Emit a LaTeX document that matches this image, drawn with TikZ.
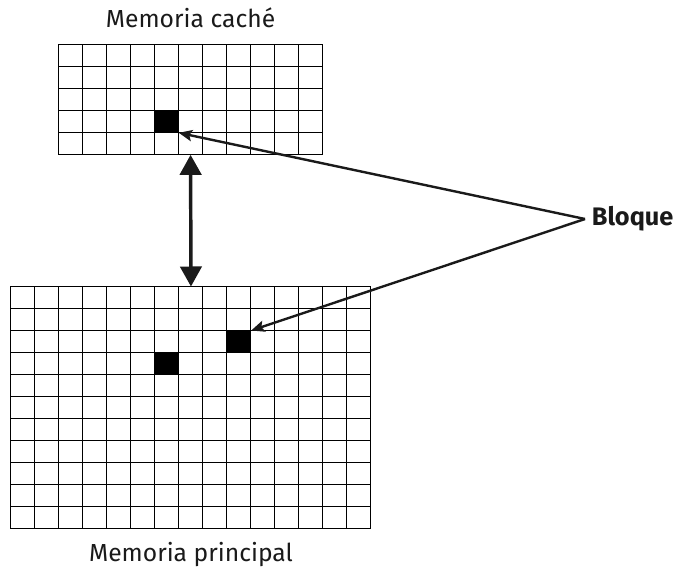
\documentclass[tikz,border=0pt]{standalone}
\usepackage{fontspec}
\setmainfont{Fira Sans}
\usepackage{tikz}
\usetikzlibrary{positioning, arrows.meta}
\definecolor{cInk}{HTML}{1A1A1A}

\begin{document}
\begin{tikzpicture}[x=0.75pt, y=-0.75pt,
    memgrid/.style={inner sep=0pt, anchor=north west},
    gridline/.style={black, line width=1pt, line cap=rect},
    blk/.style={fill=black, inner sep=0pt, minimum width=18pt, minimum height=16.5pt, anchor=north west},
    caption/.style={font=\fontsize{18.5}{20}\selectfont, text=cInk, inner sep=0pt},
    pointer/.style={-{Stealth[length=10pt, width=8.5pt, inset=2pt]}, line width=1.8pt, draw=cInk},
    bothway/.style={{Triangle[length=15pt, width=16pt]}-{Triangle[length=15pt, width=16pt]}, line width=2.6pt, draw=cInk}]
  \useasboundingbox (0,0) rectangle (682,573);

  % Cache grid (11 x 5)
  \node[memgrid, minimum width=198pt, minimum height=82.5pt] (cache) at (58.3,44.3) {};
  \foreach \i in {0,...,11}
    \draw[gridline] (58.3+\i*24,44.3) -- (58.3+\i*24,154.3);
  \foreach \j in {0,...,5}
    \draw[gridline] (58.3,44.3+\j*22) -- (322.3,44.3+\j*22);
  \node[blk] (cblk) at (154.3,110.3) {};

  % Main memory grid (15 x 11)
  \node[memgrid, minimum width=270pt, minimum height=181.5pt] (main) at (10.7,286.5) {};
  \foreach \i in {0,...,15}
    \draw[gridline] (10.7+\i*24,286.5) -- (10.7+\i*24,528.5);
  \foreach \j in {0,...,11}
    \draw[gridline] (10.7,286.5+\j*22) -- (370.7,286.5+\j*22);
  \node[blk] (mblkA) at (226.7,330.5) {};
  \node[blk] (mblkB) at (154.7,352.5) {};

  % Labels
  \node[caption, above=12pt of cache] (ctitle) {Memoria caché};
  \node[caption, below=9.5pt of main] (mtitle) {Memoria principal};
  \node[caption, font=\fontsize{19}{21}\selectfont\bfseries, inner sep=5pt, anchor=west] (bloque) at (585,219) {Bloque};

  % Transfer and pointers
  \draw[bothway] (cache.south) -- (main.north);
  \draw[pointer] (bloque.west) -- (cblk.south east);
  \draw[pointer] (bloque.west) -- (mblkA.north east);
\end{tikzpicture}
\end{document}
